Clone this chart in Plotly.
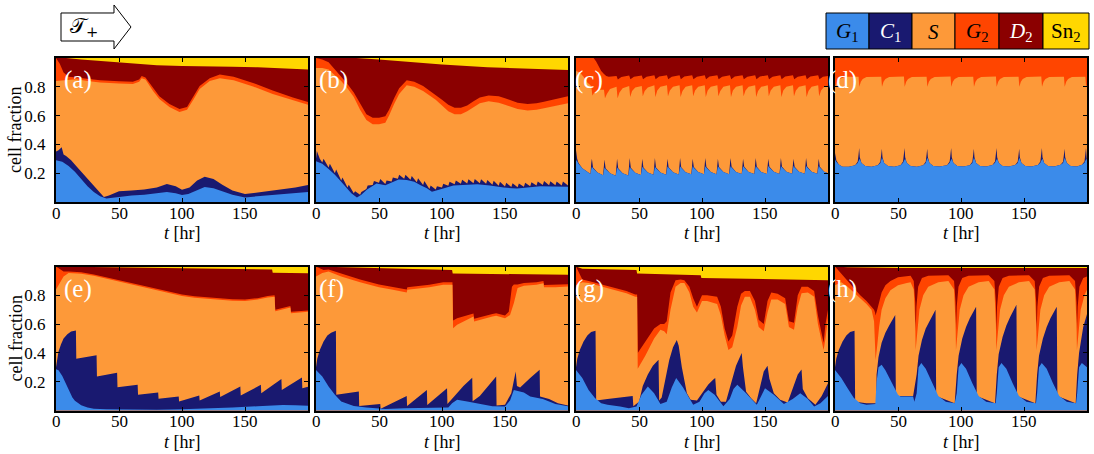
import plotly.graph_objects as go

FIG_W, FIG_H = 1094, 454
FONT = "Liberation Serif, DejaVu Serif, serif"

# ---------------- categories / labels ----------------
PHASE_NAMES = ['G1', 'C1', 'S', 'G2', 'D2', 'Sn2']
PHASE_COLORS = ['#3b8bea', '#191970', '#fd9939', '#ff4500', '#8b0000', '#ffd700']
LEGEND_TEXT = ['<i>G</i><sub>1</sub>', '<i>C</i><sub>1</sub>', '<i>S</i>',
               '<i>G</i><sub>2</sub>', '<i>D</i><sub>2</sub>', 'Sn<sub>2</sub>']
LEGEND_TEXT_COLORS = ['black', 'white', 'black', 'black', 'white', 'black']
PANEL_LABELS = ['(a)', '(b)', '(c)', '(d)', '(e)', '(f)', '(g)', '(h)']
X_TICKS = [0, 50, 100, 150]
X_TICK_TEXT = ['0', '50', '100', '150']
Y_TICKS = [0.2, 0.4, 0.6, 0.8]
Y_TICK_TEXT = ['0.2', '0.4', '0.6', '0.8']
T_RANGE = [0, 200]
TOTAL_T = [0, 200]
TOTAL_V = [1.0, 1.0]

# ---------------- data: cumulative tops of each phase ----------------
# panel (a)
a_g1_t = [0, 5, 10, 15, 20, 25, 30, 35, 40, 45, 50, 60, 70, 80, 88, 95, 100, 105, 112, 118,
          125, 132, 140, 150, 160, 170, 180, 190, 200]
a_g1_v = [0.29, 0.28, 0.25, 0.21, 0.16, 0.11, 0.07, 0.04, 0.025, 0.03, 0.04, 0.045, 0.05, 0.06, 0.07, 0.06,
          0.048, 0.055, 0.085, 0.105, 0.095, 0.075, 0.05, 0.032, 0.04, 0.05, 0.055, 0.062, 0.07]
a_c1_t = [0, 2, 4.5, 6, 8, 12, 16, 20, 25, 30, 35, 38, 42, 50, 60, 70, 80, 88, 95, 100,
          106, 112, 118, 125, 132, 140, 150, 160, 170, 180, 190, 200]
a_c1_v = [0.35, 0.36, 0.38, 0.33, 0.32, 0.29, 0.25, 0.21, 0.16, 0.115, 0.06, 0.035, 0.045, 0.075, 0.08, 0.087,
          0.10, 0.125, 0.11, 0.085, 0.10, 0.15, 0.175, 0.16, 0.12, 0.08, 0.055, 0.065, 0.078, 0.085, 0.10, 0.118]
a_s_t = [0, 5, 10, 16, 25, 35, 50, 61, 66, 68, 71, 74, 77, 82, 90, 98, 104, 109, 114, 122,
         130, 141, 157, 172, 188, 200]
a_s_v = [0.84, 0.845, 0.85, 0.853, 0.84, 0.83, 0.823, 0.82, 0.835, 0.86, 0.85, 0.81, 0.77, 0.715, 0.66,
         0.625, 0.64, 0.71, 0.785, 0.84, 0.86, 0.845, 0.80, 0.75, 0.705, 0.675]
a_g2_t = [0, 3, 6, 10, 16, 25, 35, 50, 61, 66, 68, 71, 74, 77, 82, 90, 98, 104, 109, 114,
          122, 130, 141, 157, 172, 188, 200]
a_g2_v = [1.0, 0.96, 0.90, 0.87, 0.865, 0.855, 0.845, 0.838, 0.835, 0.85, 0.875, 0.865, 0.83, 0.79, 0.735,
          0.68, 0.645, 0.66, 0.73, 0.805, 0.86, 0.885, 0.87, 0.825, 0.775, 0.725, 0.695]
a_d2_t = [0, 8, 20, 40, 60, 80, 100, 120, 140, 160, 180, 200]
a_d2_v = [1.0, 1.0, 0.99, 0.975, 0.96, 0.95, 0.945, 0.945, 0.94, 0.935, 0.93, 0.92]

# panel (b)
b_g1_t = [0, 5, 10, 15, 20, 24, 28, 32.5, 36, 40.5, 48, 55, 60, 65.6, 72, 78, 83, 88, 92, 96,
          101, 109, 118, 128, 138, 149, 159.5, 168, 178, 188, 200]
b_g1_v = [0.283, 0.265, 0.23, 0.19, 0.14, 0.10, 0.06, 0.032, 0.05, 0.087, 0.129, 0.117, 0.135, 0.156, 0.152,
          0.14, 0.117, 0.095, 0.071, 0.08, 0.094, 0.115, 0.12, 0.124, 0.115, 0.10, 0.094, 0.10, 0.11, 0.108, 0.106]
b_c1_t = [0, 0.7, 3, 5, 6, 10, 11, 15, 16, 20, 21, 25, 26, 30, 31, 35, 36, 40, 41, 45, 46, 50, 51,
          55, 56, 60, 61, 65, 66, 70, 71, 75, 76, 80, 81, 85, 86, 90, 91, 95, 96, 100, 101,
          105, 106, 110, 111, 115, 116, 120, 121, 125, 126, 130, 131, 135, 136, 140, 141, 145, 146, 150, 151,
          155, 156, 160, 161, 165, 166, 170, 171, 175, 176, 180, 181, 185, 186, 190, 191, 195, 196, 200]
b_c1_v = [0.30, 0.355, 0.30, 0.275, 0.30, 0.24, 0.265, 0.20, 0.225, 0.15, 0.17, 0.10, 0.12, 0.06, 0.075,
          0.05, 0.07, 0.09, 0.115, 0.118, 0.145, 0.134, 0.16,
          0.125, 0.15, 0.143, 0.17, 0.162, 0.19, 0.161, 0.19, 0.154, 0.18, 0.138, 0.165, 0.118, 0.145,
          0.091, 0.115, 0.086, 0.11, 0.10, 0.127,
          0.113, 0.14, 0.124, 0.15, 0.126, 0.155, 0.129, 0.158, 0.131, 0.16, 0.13, 0.158, 0.126, 0.153,
          0.12, 0.147, 0.113, 0.14, 0.107, 0.133,
          0.104, 0.13, 0.102, 0.128, 0.106, 0.133, 0.11, 0.137, 0.115, 0.142, 0.118, 0.145, 0.117, 0.144,
          0.116, 0.143, 0.115, 0.142, 0.114]
b_s_t = [0, 5, 10, 15, 20, 25, 30, 35, 40, 45, 50, 55, 58, 62, 66, 72, 78, 85, 90, 95,
         100, 105, 110, 115, 120, 125, 130, 137, 145, 150, 155, 160, 168, 175, 180, 190, 200]
b_s_v = [0.93, 0.93, 0.92, 0.88, 0.84, 0.79, 0.73, 0.64, 0.57, 0.54, 0.54, 0.55, 0.60, 0.68, 0.75, 0.81,
         0.80, 0.77, 0.74, 0.71, 0.67, 0.63, 0.61, 0.61, 0.63, 0.66, 0.685, 0.70, 0.69, 0.675,
         0.66, 0.645, 0.635, 0.64, 0.65, 0.67, 0.685]
b_g2_t = b_s_t
b_g2_v = [1.0, 0.99, 0.97, 0.92, 0.87, 0.82, 0.76, 0.68, 0.61, 0.585, 0.585, 0.595, 0.64, 0.72, 0.79, 0.845,
          0.835, 0.805, 0.775, 0.745, 0.71, 0.675, 0.655, 0.655, 0.67, 0.70, 0.725, 0.74, 0.735, 0.72,
          0.705, 0.69, 0.68, 0.685, 0.695, 0.715, 0.735]
b_d2_t = [0, 32, 50, 67, 100, 136, 170, 200]
b_d2_v = [1.0, 1.0, 0.99, 0.977, 0.955, 0.935, 0.925, 0.917]

# panel (c)
c_lo_t = [0, 0.4, 0.9, 2, 5, 8,
          11.5, 12.1, 12.6, 13.5, 17, 21.5, 22.1, 22.6, 23.5, 27, 31.5, 32.1, 32.6, 33.5, 37,
          41.5, 42.1, 42.6, 43.5, 47, 51.5, 52.1, 52.6, 53.5, 57, 61.5, 62.1, 62.6, 63.5, 67,
          71.5, 72.1, 72.6, 73.5, 77, 81.5, 82.1, 82.6, 83.5, 87, 91.5, 92.1, 92.6, 93.5, 97,
          101.5, 102.1, 102.6, 103.5, 107, 111.5, 112.1, 112.6, 113.5, 117, 121.5, 122.1, 122.6, 123.5, 127,
          131.5, 132.1, 132.6, 133.5, 137, 141.5, 142.1, 142.6, 143.5, 147, 151.5, 152.1, 152.6, 153.5, 157,
          161.5, 162.1, 162.6, 163.5, 167, 171.5, 172.1, 172.6, 173.5, 177, 181.5, 182.1, 182.6, 183.5, 187,
          191.5, 192.1, 192.6, 193.5, 197, 200]
c_g1_v = [0.29, 0.29, 0.285, 0.265, 0.235, 0.215,
          0.195, 0.23, 0.245, 0.235, 0.205, 0.185, 0.225, 0.24, 0.23, 0.20, 0.182, 0.225, 0.24, 0.23, 0.20,
          0.184, 0.228, 0.243, 0.233, 0.203, 0.187, 0.23, 0.245, 0.235, 0.205, 0.19, 0.23, 0.245, 0.235, 0.205,
          0.19, 0.232, 0.247, 0.237, 0.207, 0.191, 0.232, 0.247, 0.237, 0.207, 0.192, 0.233, 0.248, 0.238, 0.208,
          0.192, 0.233, 0.248, 0.238, 0.208, 0.193, 0.233, 0.248, 0.238, 0.208, 0.193, 0.234, 0.249, 0.239, 0.209,
          0.194, 0.234, 0.249, 0.239, 0.209, 0.194, 0.234, 0.249, 0.239, 0.209, 0.195, 0.235, 0.25, 0.24, 0.21,
          0.195, 0.235, 0.25, 0.24, 0.21, 0.196, 0.235, 0.25, 0.24, 0.21, 0.196, 0.236, 0.25, 0.24, 0.21,
          0.197, 0.236, 0.25, 0.24, 0.21, 0.20]
c_c1_v = [0.30, 0.36, 0.30, 0.27, 0.235, 0.215,
          0.195, 0.27, 0.30, 0.24, 0.205, 0.185, 0.265, 0.295, 0.235, 0.20, 0.182, 0.265, 0.30, 0.235, 0.20,
          0.184, 0.27, 0.305, 0.238, 0.203, 0.187, 0.27, 0.30, 0.24, 0.205, 0.19, 0.27, 0.305, 0.24, 0.205,
          0.19, 0.272, 0.30, 0.242, 0.207, 0.191, 0.27, 0.305, 0.242, 0.207, 0.192, 0.272, 0.30, 0.243, 0.208,
          0.192, 0.272, 0.305, 0.243, 0.208, 0.193, 0.272, 0.30, 0.243, 0.208, 0.193, 0.273, 0.305, 0.244, 0.209,
          0.194, 0.273, 0.30, 0.244, 0.209, 0.194, 0.273, 0.305, 0.244, 0.209, 0.195, 0.274, 0.30, 0.245, 0.21,
          0.195, 0.274, 0.305, 0.245, 0.21, 0.196, 0.274, 0.30, 0.245, 0.21, 0.196, 0.275, 0.305, 0.245, 0.21,
          0.197, 0.275, 0.30, 0.245, 0.21, 0.20]
c_s_t = [0, 3, 6, 9, 11.5,
         12.2, 13, 14.5, 17, 22.2, 23, 24.5, 27, 32.2, 33, 34.5, 37, 42.2, 43, 44.5, 47,
         52.2, 53, 54.5, 57, 62.2, 63, 64.5, 67, 72.2, 73, 74.5, 77, 82.2, 83, 84.5, 87,
         92.2, 93, 94.5, 97, 102.2, 103, 104.5, 107, 112.2, 113, 114.5, 117, 122.2, 123, 124.5, 127,
         132.2, 133, 134.5, 137, 142.2, 143, 144.5, 147, 152.2, 153, 154.5, 157, 162.2, 163, 164.5, 167,
         172.2, 173, 174.5, 177, 182.2, 183, 184.5, 187, 192.2, 193, 194.5, 197, 200]
c_s_v = [0.91, 0.90, 0.87, 0.83, 0.81,
         0.80, 0.74, 0.76, 0.78, 0.78, 0.72, 0.75, 0.785, 0.80, 0.72, 0.76, 0.79, 0.805, 0.73, 0.77, 0.795,
         0.805, 0.735, 0.77, 0.795, 0.81, 0.73, 0.775, 0.80, 0.81, 0.735, 0.775, 0.80, 0.81, 0.73, 0.77, 0.80,
         0.81, 0.735, 0.775, 0.80, 0.81, 0.73, 0.775, 0.80, 0.81, 0.735, 0.77, 0.80, 0.81, 0.73, 0.775, 0.80,
         0.81, 0.735, 0.775, 0.80, 0.81, 0.73, 0.77, 0.80, 0.81, 0.735, 0.775, 0.80, 0.81, 0.73, 0.775, 0.80,
         0.81, 0.735, 0.775, 0.80, 0.81, 0.73, 0.77, 0.80, 0.81, 0.735, 0.775, 0.80, 0.805]
c_g2_t = [0, 14, 16, 18, 20, 22, 24, 26, 28,
          32.2, 33.2, 36, 42.2, 43.2, 46, 52.2, 53.2, 56, 62.2, 63.2, 66, 72.2, 73.2, 76,
          82.2, 83.2, 86, 92.2, 93.2, 96, 102.2, 103.2, 106, 112.2, 113.2, 116, 122.2, 123.2, 126,
          132.2, 133.2, 136, 142.2, 143.2, 146, 152.2, 153.2, 156, 162.2, 163.2, 166,
          172.2, 173.2, 176, 182.2, 183.2, 186, 192.2, 193.2, 196, 200]
c_g2_v = [1.0, 1.0, 0.975, 0.94, 0.91, 0.89, 0.875, 0.87, 0.87,
          0.875, 0.85, 0.868, 0.878, 0.852, 0.87, 0.878, 0.852, 0.87, 0.88, 0.853, 0.872, 0.88, 0.852, 0.87,
          0.88, 0.853, 0.872, 0.88, 0.852, 0.87, 0.88, 0.853, 0.872, 0.88, 0.852, 0.87, 0.88, 0.853, 0.872,
          0.88, 0.852, 0.87, 0.88, 0.853, 0.872, 0.88, 0.852, 0.87, 0.88, 0.853, 0.872,
          0.88, 0.852, 0.87, 0.88, 0.853, 0.872, 0.88, 0.852, 0.87, 0.875]
c_d2_t = [0, 200]
c_d2_v = [1.0, 1.0]

# panel (d)
d_lo_t = [0, 0.4, 1, 3, 6, 11,
          16, 18, 18.7, 19.2, 19.7, 21, 24, 29, 34, 36, 36.7, 37.2, 37.7, 39, 42, 47,
          52, 54, 54.7, 55.2, 55.7, 57, 60, 65, 70, 72, 72.7, 73.2, 73.7, 75, 78, 83,
          89, 91, 91.7, 92.2, 92.7, 94, 97, 102, 107, 109, 109.7, 110.2, 110.7, 112, 115, 120,
          125, 127, 127.7, 128.2, 128.7, 130, 133, 138, 143, 145, 145.7, 146.2, 146.7, 148, 151, 156,
          161, 163, 163.7, 164.2, 164.7, 166, 169, 174, 179, 181, 181.7, 182.2, 182.7, 184, 187, 192,
          196, 198, 198.7, 199.2, 199.7, 200]
d_g1_v = [0.29, 0.29, 0.28, 0.26, 0.245, 0.245,
          0.255, 0.27, 0.285, 0.30, 0.30, 0.27, 0.25, 0.245, 0.255, 0.27, 0.285, 0.305, 0.30, 0.27, 0.25, 0.245,
          0.255, 0.272, 0.287, 0.30, 0.30, 0.27, 0.25, 0.245, 0.256, 0.27, 0.285, 0.305, 0.30, 0.27, 0.25, 0.246,
          0.256, 0.272, 0.287, 0.30, 0.30, 0.27, 0.25, 0.246, 0.256, 0.27, 0.285, 0.305, 0.30, 0.27, 0.25, 0.246,
          0.257, 0.272, 0.287, 0.30, 0.30, 0.27, 0.25, 0.246, 0.257, 0.27, 0.285, 0.305, 0.30, 0.27, 0.25, 0.246,
          0.257, 0.272, 0.287, 0.30, 0.30, 0.27, 0.25, 0.247, 0.258, 0.27, 0.285, 0.305, 0.30, 0.27, 0.25, 0.247,
          0.258, 0.272, 0.287, 0.30, 0.30, 0.29]
d_c1_v = [0.30, 0.34, 0.29, 0.26, 0.245, 0.245,
          0.255, 0.28, 0.33, 0.375, 0.31, 0.27, 0.25, 0.245, 0.255, 0.28, 0.33, 0.37, 0.31, 0.27, 0.25, 0.245,
          0.255, 0.282, 0.335, 0.375, 0.31, 0.27, 0.25, 0.245, 0.256, 0.28, 0.33, 0.37, 0.31, 0.27, 0.25, 0.246,
          0.256, 0.282, 0.335, 0.375, 0.31, 0.27, 0.25, 0.246, 0.256, 0.28, 0.33, 0.37, 0.31, 0.27, 0.25, 0.246,
          0.257, 0.282, 0.335, 0.375, 0.31, 0.27, 0.25, 0.246, 0.257, 0.28, 0.33, 0.37, 0.31, 0.27, 0.25, 0.246,
          0.257, 0.282, 0.335, 0.375, 0.31, 0.27, 0.25, 0.247, 0.258, 0.28, 0.33, 0.37, 0.31, 0.27, 0.25, 0.247,
          0.258, 0.282, 0.335, 0.375, 0.31, 0.29]
d_s_t = [0, 2, 5, 10,
         18.7, 19.3, 20.5, 22, 25, 36.7, 37.3, 38.5, 40, 43, 54.7, 55.3, 56.5, 58, 61,
         72.7, 73.3, 74.5, 76, 79, 91.7, 92.3, 93.5, 95, 98, 109.7, 110.3, 111.5, 113, 116,
         127.7, 128.3, 129.5, 131, 134, 145.7, 146.3, 147.5, 149, 152, 163.7, 164.3, 165.5, 167, 170,
         181.7, 182.3, 183.5, 185, 188, 198.7, 199.3, 200]
d_s_v = [0.80, 0.84, 0.86, 0.87,
         0.87, 0.80, 0.835, 0.855, 0.868, 0.87, 0.80, 0.835, 0.855, 0.868, 0.872, 0.80, 0.835, 0.855, 0.868,
         0.87, 0.80, 0.835, 0.855, 0.868, 0.872, 0.80, 0.835, 0.855, 0.868, 0.87, 0.80, 0.835, 0.855, 0.868,
         0.872, 0.80, 0.835, 0.855, 0.868, 0.87, 0.80, 0.835, 0.855, 0.868, 0.872, 0.80, 0.835, 0.855, 0.868,
         0.87, 0.80, 0.835, 0.855, 0.868, 0.87, 0.80, 0.815]
d_g2_t = [0, 200]
d_g2_v = [1.0, 1.0]
d_d2_t = [0, 200]
d_d2_v = [1.0, 1.0]

# panel (e)
e_g1_t = [0, 2, 5, 8, 10, 13, 15, 18, 20, 25, 30, 40, 60, 80, 100, 120, 140, 160, 180, 190, 200]
e_g1_v = [0.287, 0.28, 0.24, 0.18, 0.137, 0.09, 0.067, 0.045, 0.037, 0.02, 0.012, 0.008, 0.006, 0.006,
          0.008, 0.013, 0.02, 0.03, 0.038, 0.036, 0.033]
e_c1_t = [0, 1, 2, 4, 6, 9, 12, 15.8, 16.1, 32.2, 32.5, 48.5, 48.8, 64.8, 65.1, 81.1, 81.4, 97.4, 97.7,
          113.7, 114, 130, 130.3, 146.3, 146.6, 162.6, 162.9, 178.9, 179.2, 195.2, 195.5, 200]
e_c1_v = [0.30, 0.36, 0.41, 0.46, 0.50, 0.53, 0.548, 0.555, 0.36, 0.384, 0.236, 0.262, 0.162, 0.178, 0.109,
          0.125, 0.081, 0.097, 0.0625, 0.104, 0.07, 0.132, 0.093, 0.167, 0.104, 0.178, 0.12, 0.218, 0.143,
          0.23, 0.155, 0.165]
e_s_t = [0, 3, 6, 10, 20, 30, 40, 50, 60, 70, 80, 90, 100, 110, 120, 130, 140, 150, 160, 168,
         173.5, 174, 180, 186, 186.5, 195, 200]
e_s_v = [0.84, 0.89, 0.93, 0.955, 0.95, 0.935, 0.915, 0.895, 0.875, 0.855, 0.835, 0.815, 0.795, 0.783,
         0.775, 0.768, 0.762, 0.76, 0.77, 0.785, 0.79, 0.69, 0.70, 0.715, 0.675, 0.68, 0.685]
e_g2_t = e_s_t
e_g2_v = [1.0, 0.98, 0.965, 0.965, 0.96, 0.945, 0.925, 0.905, 0.885, 0.865, 0.845, 0.825, 0.805, 0.793,
          0.785, 0.778, 0.772, 0.77, 0.78, 0.795, 0.80, 0.70, 0.71, 0.725, 0.685, 0.69, 0.695]
e_d2_t = [0, 35, 80, 120, 171.5, 172, 200]
e_d2_v = [1.0, 0.995, 0.99, 0.985, 0.98, 0.957, 0.953]

# panel (f)
f_g1_t = [0, 5, 10, 15, 20, 25, 30, 40, 55, 70, 90, 105, 108, 112, 120, 130, 140, 150, 154, 157,
          160, 165, 170, 180, 190, 200]
f_g1_v = [0.282, 0.236, 0.167, 0.109, 0.0625, 0.045, 0.032, 0.02, 0.01, 0.015, 0.02, 0.02, 0.05, 0.074,
          0.0625, 0.044, 0.03, 0.028, 0.07, 0.143, 0.138, 0.125, 0.097, 0.079, 0.046, 0.03]
f_c1_t = [0, 1, 3, 6, 9, 12, 15.8, 16.1, 34, 34.3, 51, 51.3, 72, 72.3, 88, 88.3, 104, 104.3, 110, 117,
          124, 124.3, 130, 137, 143, 143.3, 150, 155, 158.5, 159.5, 162, 170, 177.5, 177.8, 185, 192, 200]
f_c1_v = [0.30, 0.36, 0.42, 0.48, 0.52, 0.54, 0.553, 0.109, 0.132, 0.032, 0.045, 0.012, 0.10, 0.032,
          0.143, 0.039, 0.155, 0.046, 0.10, 0.17, 0.228, 0.065, 0.10, 0.17, 0.236, 0.035, 0.04, 0.12, 0.27,
          0.17, 0.16, 0.225, 0.283, 0.097, 0.08, 0.05, 0.035]
f_s_t = [0, 5, 10, 20, 35, 50, 60, 72, 72.5, 90, 101, 108.3, 108.8, 112, 125, 125.5, 140, 143, 150, 154,
         157, 160, 165, 175, 180.5, 181, 190, 200]
f_s_v = [0.93, 0.955, 0.965, 0.93, 0.89, 0.856, 0.84, 0.82, 0.838, 0.856, 0.873, 0.873, 0.572, 0.595,
         0.653, 0.618, 0.653, 0.658, 0.641, 0.664, 0.745, 0.85, 0.866, 0.873, 0.884, 0.856, 0.856, 0.861]
f_g2_t = [0, 3, 6, 10, 20, 35, 50, 60, 72, 72.5, 90, 101, 108.3, 108.8, 112, 125, 125.5, 140, 143, 150,
          153, 155.5, 157, 160, 165, 175, 180.5, 181, 190, 200]
f_g2_v = [1.0, 0.985, 0.975, 0.98, 0.95, 0.91, 0.875, 0.86, 0.84, 0.856, 0.873, 0.89, 0.89, 0.625, 0.64,
          0.673, 0.638, 0.67, 0.675, 0.66, 0.685, 0.86, 0.875, 0.875, 0.885, 0.89, 0.9, 0.872, 0.872, 0.877]
f_d2_t = [0, 40, 70, 108, 108.5, 150, 200]
f_d2_v = [1.0, 0.99, 0.985, 0.975, 0.952, 0.947, 0.942]

# panel (g)
g_g1_t = [0, 5, 10, 15, 20, 25, 35, 42, 48, 52, 57, 62, 67, 72, 76, 79.5, 85, 93, 98, 102,
          105, 110, 117, 122, 125, 128, 135, 143.5, 147, 150, 157, 165, 172, 178, 184, 189, 194, 200]
g_g1_v = [0.282, 0.225, 0.143, 0.086, 0.05, 0.04, 0.028, 0.016, 0.028, 0.11, 0.167, 0.12, 0.045, 0.06,
          0.16, 0.225, 0.16, 0.04, 0.06, 0.12, 0.143, 0.11, 0.03, 0.08, 0.15, 0.178, 0.12, 0.04, 0.10,
          0.155, 0.11, 0.045, 0.08, 0.12, 0.08, 0.028, 0.05, 0.10]
g_c1_t = [0, 1, 3, 6, 9, 12, 15.5, 16, 25, 35, 45, 45.5, 50, 53, 57, 61, 65.5, 66, 68, 71,
          74, 77, 80, 81.5, 84, 88, 91, 96, 100, 105, 109, 110.5, 111.5, 115, 119, 123, 127, 131.5, 132.5, 135,
          139, 143, 146, 149, 152, 153.5, 157, 162, 168, 172, 176, 179, 180, 184, 190, 195, 200]
g_c1_v = [0.30, 0.36, 0.42, 0.48, 0.52, 0.545, 0.553, 0.07, 0.08, 0.09, 0.10, 0.03, 0.06, 0.17, 0.25,
          0.31, 0.352, 0.07, 0.09, 0.22, 0.35, 0.44, 0.49, 0.45, 0.30, 0.12, 0.075, 0.07, 0.12, 0.18,
          0.215, 0.225, 0.11, 0.06, 0.06, 0.18, 0.31, 0.40, 0.30, 0.13, 0.085, 0.05, 0.17, 0.27, 0.31,
          0.22, 0.12, 0.075, 0.055, 0.16, 0.25, 0.285, 0.15, 0.085, 0.04, 0.10, 0.19]
g_s_t = [0, 5, 10, 25, 40, 47, 48.5, 49, 55, 62, 67, 70, 72, 75, 79, 83, 86, 90, 93, 96,
         100, 104, 112, 115, 118, 121, 124, 128, 131, 134, 138, 142, 145, 149, 152, 155, 160, 166, 169, 173,
         176, 179, 184, 189, 192, 196.5, 198, 200]
g_s_v = [0.87, 0.89, 0.885, 0.85, 0.815, 0.79, 0.79, 0.29, 0.38, 0.50, 0.56, 0.55, 0.53, 0.70, 0.86,
         0.885, 0.885, 0.82, 0.72, 0.68, 0.76, 0.76, 0.74, 0.66, 0.52, 0.42, 0.44, 0.58, 0.73, 0.79,
         0.79, 0.70, 0.58, 0.55, 0.68, 0.77, 0.77, 0.74, 0.58, 0.56, 0.72, 0.815, 0.82, 0.79, 0.60,
         0.42, 0.50, 0.64]
g_g2_t = g_s_t
g_g2_v = [1.0, 0.91, 0.90, 0.865, 0.83, 0.805, 0.805, 0.40, 0.48, 0.57, 0.60, 0.60, 0.62, 0.82, 0.905,
          0.91, 0.905, 0.86, 0.78, 0.72, 0.80, 0.80, 0.79, 0.72, 0.57, 0.48, 0.52, 0.72, 0.81, 0.83,
          0.83, 0.76, 0.63, 0.60, 0.76, 0.82, 0.81, 0.78, 0.62, 0.61, 0.80, 0.86, 0.86, 0.83, 0.66,
          0.47, 0.60, 0.70]
g_d2_t = [0, 5, 48, 48.5, 99, 99.5, 200]
g_d2_v = [1.0, 0.985, 0.975, 0.952, 0.94, 0.92, 0.905]

# panel (h)
h_g1_t = [0, 5, 10, 15, 20, 25, 32, 33, 34.5, 37, 40, 45, 50, 52, 62, 63, 64.8, 66.3, 68.5, 72,
          77, 82, 88, 95, 96.6, 98.1, 100.3, 104, 109, 114, 120, 127.5, 128.4, 129.9, 132.1, 136, 141, 146,
          152, 159.5, 160.4, 161.9, 164.1, 168, 173, 178, 184, 191.3, 192.2, 193.7, 195.9, 200]
h_g1_v = [0.282, 0.225, 0.155, 0.086, 0.05, 0.04, 0.046, 0.2, 0.30, 0.317, 0.28, 0.19, 0.11, 0.097,
          0.097, 0.06, 0.12, 0.30, 0.33, 0.29, 0.19, 0.10, 0.06, 0.05, 0.12, 0.30, 0.33, 0.29, 0.19,
          0.10, 0.06, 0.05, 0.12, 0.30, 0.33, 0.29, 0.19, 0.10, 0.06, 0.05, 0.12, 0.30, 0.33, 0.29,
          0.19, 0.10, 0.06, 0.05, 0.12, 0.30, 0.33, 0.30]
h_c1_t = [0, 1, 3, 6, 9, 12, 15.5, 16, 25, 32.8,
          33, 34.5, 37, 40, 43, 46, 47.8, 48.3, 62,
          64.8, 66.3, 69, 72, 75, 78, 79.8, 80.3, 95,
          96.6, 98.1, 101, 104, 107, 110, 112, 112.5, 127,
          128.4, 129.9, 133, 136, 139, 142, 144, 144.5, 159,
          160.4, 161.9, 165, 168, 171, 174, 176, 176.5, 191,
          192.2, 193.7, 197, 200]
h_c1_v = [0.30, 0.36, 0.42, 0.48, 0.52, 0.545, 0.553, 0.06, 0.05, 0.05,
          0.25, 0.37, 0.47, 0.54, 0.59, 0.64, 0.664, 0.10, 0.10,
          0.25, 0.38, 0.49, 0.57, 0.62, 0.67, 0.70, 0.10, 0.05,
          0.25, 0.38, 0.50, 0.58, 0.64, 0.69, 0.72, 0.10, 0.05,
          0.25, 0.39, 0.51, 0.59, 0.65, 0.70, 0.734, 0.10, 0.05,
          0.25, 0.38, 0.50, 0.58, 0.64, 0.69, 0.72, 0.10, 0.05,
          0.25, 0.40, 0.58, 0.67]
h_s_t = [0, 5, 10, 15, 20, 25, 29, 31, 31.8, 32.2, 33.5, 35, 37, 40, 44, 50, 57, 60,
         62.5, 63.7, 64, 65, 67, 70, 74, 82, 90,
         94.5, 95.7, 96, 97, 99, 102, 106, 114, 122,
         126.5, 127.7, 128, 129, 131, 134, 138, 146, 154,
         158.5, 159.7, 160, 161, 163, 166, 170, 178, 186,
         190.5, 191.7, 192, 193, 195, 198, 200]
h_s_v = [0.87, 0.89, 0.86, 0.82, 0.78, 0.74, 0.70, 0.62, 0.45, 0.35, 0.45, 0.58, 0.70, 0.78, 0.835, 0.87,
         0.885, 0.89,
         0.84, 0.60, 0.42, 0.50, 0.70, 0.80, 0.86, 0.89, 0.90,
         0.84, 0.60, 0.42, 0.50, 0.70, 0.80, 0.86, 0.89, 0.90,
         0.84, 0.60, 0.42, 0.50, 0.70, 0.80, 0.86, 0.89, 0.90,
         0.84, 0.60, 0.42, 0.50, 0.70, 0.80, 0.86, 0.89, 0.90,
         0.84, 0.60, 0.42, 0.50, 0.70, 0.80, 0.84]
h_g2_t = [0, 4, 8, 12, 16, 20, 25, 29, 31, 31.8, 32.2, 33.5, 35, 37, 40, 44, 50, 57, 60,
          62.5, 63.7, 64, 64.6, 66, 69, 74, 82, 90,
          94.5, 95.7, 96, 96.6, 98, 101, 106, 114, 122,
          126.5, 127.7, 128, 128.6, 130, 133, 138, 146, 154,
          158.5, 159.7, 160, 160.6, 162, 165, 170, 178, 186,
          190.5, 191.7, 192, 192.6, 194, 197, 200]
h_g2_v = [1.0, 0.96, 0.92, 0.88, 0.84, 0.80, 0.76, 0.72, 0.70, 0.68, 0.66, 0.70, 0.76, 0.82, 0.87, 0.90,
          0.925, 0.935, 0.935,
          0.90, 0.75, 0.55, 0.72, 0.86, 0.92, 0.935, 0.94, 0.94,
          0.90, 0.75, 0.55, 0.72, 0.86, 0.92, 0.935, 0.94, 0.94,
          0.90, 0.75, 0.55, 0.72, 0.86, 0.92, 0.935, 0.94, 0.94,
          0.90, 0.75, 0.55, 0.72, 0.86, 0.92, 0.935, 0.94, 0.94,
          0.90, 0.75, 0.55, 0.72, 0.86, 0.92, 0.93]
h_d2_t = [0, 10, 50, 200]
h_d2_v = [1.0, 0.995, 0.99, 0.99]

# ---------------- assemble panels (painting order: top phase first) ----------------
panels = [
    [(TOTAL_T, TOTAL_V), (a_d2_t, a_d2_v), (a_g2_t, a_g2_v), (a_s_t, a_s_v), (a_c1_t, a_c1_v), (a_g1_t, a_g1_v)],
    [(TOTAL_T, TOTAL_V), (b_d2_t, b_d2_v), (b_g2_t, b_g2_v), (b_s_t, b_s_v), (b_c1_t, b_c1_v), (b_g1_t, b_g1_v)],
    [(TOTAL_T, TOTAL_V), (c_d2_t, c_d2_v), (c_g2_t, c_g2_v), (c_s_t, c_s_v), (c_lo_t, c_c1_v), (c_lo_t, c_g1_v)],
    [(TOTAL_T, TOTAL_V), (d_d2_t, d_d2_v), (d_g2_t, d_g2_v), (d_s_t, d_s_v), (d_lo_t, d_c1_v), (d_lo_t, d_g1_v)],
    [(TOTAL_T, TOTAL_V), (e_d2_t, e_d2_v), (e_g2_t, e_g2_v), (e_s_t, e_s_v), (e_c1_t, e_c1_v), (e_g1_t, e_g1_v)],
    [(TOTAL_T, TOTAL_V), (f_d2_t, f_d2_v), (f_g2_t, f_g2_v), (f_s_t, f_s_v), (f_c1_t, f_c1_v), (f_g1_t, f_g1_v)],
    [(TOTAL_T, TOTAL_V), (g_d2_t, g_d2_v), (g_g2_t, g_g2_v), (g_s_t, g_s_v), (g_c1_t, g_c1_v), (g_g1_t, g_g1_v)],
    [(TOTAL_T, TOTAL_V), (h_d2_t, h_d2_v), (h_g2_t, h_g2_v), (h_s_t, h_s_v), (h_c1_t, h_c1_v), (h_g1_t, h_g1_v)],
]
paint_colors = PHASE_COLORS[::-1]  # Sn2, D2, G2, S, C1, G1

for pi, layers in enumerate(panels):
    for li, (tt, vv) in enumerate(layers):
        if len(tt) != len(vv):
            raise ValueError(f"panel {PANEL_LABELS[pi]} layer {li}: {len(tt)} vs {len(vv)}")

# ---------------- geometry (pixels) ----------------
PANEL_LEFT = [56, 316, 576, 835]
PANEL_W = 252
ROW_TOP = [58, 266.5]
PANEL_H = 144
LABEL_LEFT = [62, 317, 573, 826]


def fx(px):
    return px / FIG_W


def fy(py):
    return 1 - py / FIG_H


fig = go.Figure()
layout = dict(width=FIG_W, height=FIG_H, margin=dict(l=0, r=0, t=0, b=0),
              paper_bgcolor='white', plot_bgcolor='white', showlegend=False,
              font=dict(family=FONT, color='black'))
annotations = []
shapes = []

for i, layers in enumerate(panels):
    row, col = divmod(i, 4)
    n = i + 1
    xa = 'x' if n == 1 else f'x{n}'
    ya = 'y' if n == 1 else f'y{n}'
    for (tt, vv), colr in zip(layers, paint_colors):
        fig.add_trace(go.Scatter(x=tt, y=vv, mode='lines', line=dict(width=0, color=colr),
                                 fill='tozeroy', fillcolor=colr, hoverinfo='skip',
                                 xaxis=xa, yaxis=ya))
    left = PANEL_LEFT[col]
    top = ROW_TOP[row]
    bottom = top + PANEL_H
    axis_common = dict(showline=True, mirror='ticks', linecolor='black', linewidth=2,
                       ticks='inside', ticklen=4, tickwidth=1, tickcolor='black',
                       showgrid=False, zeroline=False,
                       tickfont=dict(family=FONT, size=17, color='black'))
    layout['xaxis' if n == 1 else f'xaxis{n}'] = dict(
        domain=[fx(left), fx(left + PANEL_W)], range=T_RANGE, anchor=ya,
        tickvals=X_TICKS, showticklabels=False, **axis_common)
    layout['yaxis' if n == 1 else f'yaxis{n}'] = dict(
        domain=[fy(bottom), fy(top)], range=[0, 1], anchor=xa,
        tickvals=Y_TICKS, ticktext=Y_TICK_TEXT, showticklabels=(col == 0),
        ticklabelstandoff=5, **axis_common)
    # x tick labels, placed at the axis' own data coordinates
    for tv, tx in zip(X_TICKS, X_TICK_TEXT):
        annotations.append(dict(text=tx, x=tv, xref=xa, y=fy(bottom + 11), yref='paper',
                                showarrow=False, xanchor='center', yanchor='middle',
                                font=dict(family=FONT, size=17, color='black')))
    # x-axis title
    annotations.append(dict(text='<i>t</i> [hr]', x=fx(left + PANEL_W / 2), y=fy(bottom + 31),
                            xref='paper', yref='paper', showarrow=False, xanchor='center', yanchor='middle',
                            font=dict(family=FONT, size=18, color='black')))
    # panel label
    annotations.append(dict(text=PANEL_LABELS[i], x=fx(LABEL_LEFT[col]), y=fy(top + 22),
                            xref='paper', yref='paper', showarrow=False, xanchor='left', yanchor='middle',
                            font=dict(family=FONT, size=25, color='white')))
    if col == 0:
        annotations.append(dict(text='cell fraction', x=fx(15), y=fy(top + PANEL_H / 2),
                                xref='paper', yref='paper', showarrow=False, textangle=-90,
                                xanchor='center', yanchor='middle',
                                font=dict(family=FONT, size=18, color='black')))

# legend boxes
LEG_EDGES = [826, 869, 912, 955, 999, 1043, 1089]
LEG_TOP, LEG_BOT = 13, 49
for k in range(len(PHASE_NAMES)):
    shapes.append(dict(type='rect', xref='paper', yref='paper',
                       x0=fx(LEG_EDGES[k]), x1=fx(LEG_EDGES[k + 1]), y0=fy(LEG_BOT), y1=fy(LEG_TOP),
                       fillcolor=PHASE_COLORS[k], line=dict(color='black', width=1)))
    annotations.append(dict(text=LEGEND_TEXT[k], x=fx((LEG_EDGES[k] + LEG_EDGES[k + 1]) / 2),
                            y=fy((LEG_TOP + LEG_BOT) / 2 + 1), xref='paper', yref='paper', showarrow=False,
                            xanchor='center', yanchor='middle',
                            font=dict(family=FONT, size=21, color=LEGEND_TEXT_COLORS[k])))

# arrow with T+
arrow_pts = [(61, 13), (114, 13), (114, 5), (131, 27), (114, 49), (114, 41), (61, 41)]
path = 'M ' + ' L '.join(f'{fx(x):.5f},{fy(y):.5f}' for x, y in arrow_pts) + ' Z'
shapes.append(dict(type='path', xref='paper', yref='paper', path=path,
                   fillcolor='white', line=dict(color='black', width=1)))
annotations.append(dict(text='\U0001D4AF<sub>+</sub>', x=fx(84), y=fy(27), xref='paper', yref='paper',
                        showarrow=False, xanchor='center', yanchor='middle',
                        font=dict(family="DejaVu Serif, DejaVu Sans, serif", size=21, color='black')))

layout['annotations'] = annotations
layout['shapes'] = shapes
fig.update_layout(**layout)
fig.write_html("out.html")
